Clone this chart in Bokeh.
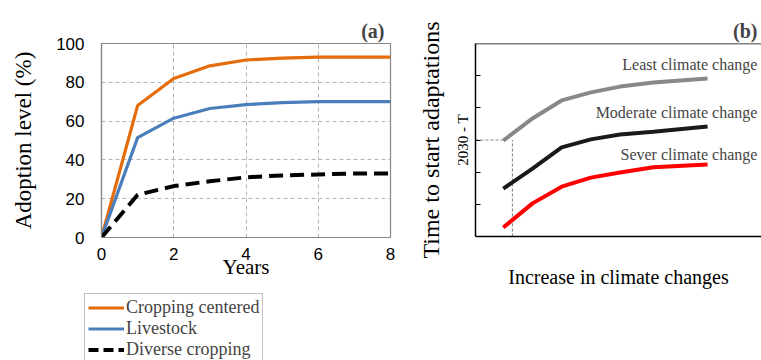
from bokeh.plotting import figure
from bokeh.models import Range1d, Legend, LegendItem, Label, Span, Title
from bokeh.layouts import row, column
from bokeh.embed import file_html
from bokeh.resources import INLINE

# ---- Panel (a) data ----
years = [0, 1, 2, 3, 4, 5, 6, 7, 8]
cropping_centered = [0, 68, 82, 88.5, 91.5, 92.5, 93, 93, 93]
livestock = [0, 51.5, 61.5, 66.5, 68.5, 69.5, 70, 70, 70]
diverse_cropping = [0, 22, 26.5, 29, 31, 32, 32.5, 33, 33]
a_xticks = [0, 2, 4, 6, 8]
a_yticks = [0, 20, 40, 60, 80, 100]
a_series_names = ["Cropping centered", "Livestock", "Diverse cropping"]

# ---- Panel (b) data ----
climate_increase = [1.0, 2.05, 3.1, 4.15, 5.2, 6.4, 8.35]
least_change = [2.98, 3.67, 4.23, 4.48, 4.66, 4.79, 4.91]
moderate_change = [1.49, 2.11, 2.77, 3.02, 3.17, 3.26, 3.42]
severe_change = [0.28, 1.03, 1.55, 1.83, 1.99, 2.15, 2.24]
b_series_names = ["Least climate change", "Moderate climate change", "Sever climate change"]
b_yticks = [1, 2, 3, 4, 5]
b_tick_labels = {1: "", 2: "", 3: "2030 - T", 4: "", 5: ""}
guide_x = 1.33
guide_y = 3.0

SERIF = "Liberation Serif"
SANS = "Liberation Sans"
ORANGE = "#E46C0A"
BLUE = "#4A7EBB"

# ================= Panel (a) =================
pa = figure(width=410, height=288, output_backend="svg", toolbar_location=None,
            x_range=Range1d(0, 8), y_range=Range1d(0, 100),
            min_border_left=101, min_border_right=20, min_border_top=43, min_border_bottom=51)
pa.background_fill_color = "white"
pa.border_fill_color = "white"
pa.outline_line_color = "#868686"
pa.outline_line_width = 1.2

pa.xaxis.ticker = a_xticks
pa.yaxis.ticker = a_yticks
pa.xgrid.ticker = a_xticks
pa.ygrid.ticker = a_yticks
for g in (pa.xgrid, pa.ygrid):
    g.grid_line_color = "#b3b3b3"
    g.grid_line_dash = "4 3"
    g.grid_line_width = 1

for ax in (pa.xaxis, pa.yaxis):
    ax.major_tick_in = 0
    ax.major_tick_out = 0
    ax.minor_tick_in = 0
    ax.minor_tick_out = 0
    ax.axis_line_color = "#868686"
    ax.axis_line_width = 1.2
    ax.major_label_text_font = SANS
    ax.major_label_text_font_size = "17px"
    ax.major_label_text_color = "black"
    ax.axis_label_text_font = SERIF
    ax.axis_label_text_font_style = "normal"
    ax.axis_label_text_color = "black"
pa.yaxis.major_label_standoff = 17
pa.xaxis.major_label_standoff = 10
pa.xaxis.axis_label = "Years"
pa.xaxis.axis_label_text_font_size = "21px"
pa.xaxis.axis_label_standoff = -8
pa.yaxis.axis_label = "Adoption level (%)"
pa.yaxis.axis_label_text_font_size = "23px"
pa.yaxis.axis_label_standoff = 17

pa.title = Title(text="(a)", align="right", text_font=SERIF, text_font_size="20px",
                 text_font_style="bold", offset=6, standoff=4)

pa.line(years, cropping_centered, line_color=ORANGE, line_width=3.2)
pa.line(years, livestock, line_color=BLUE, line_width=3.2)
pa.line(years, diverse_cropping, line_color="black", line_width=4, line_dash="14 7")

# ---- Legend box under panel (a): hidden copies of the series give the keys ----
lf = figure(width=410, height=72, output_backend="svg", toolbar_location=None,
            x_range=Range1d(0, 8), y_range=Range1d(0, 100),
            x_axis_type=None, y_axis_type=None,
            min_border_left=84, min_border_right=0, min_border_top=5, min_border_bottom=0)
lf.outline_line_color = None
lf.grid.visible = False
lk1 = lf.line(years, cropping_centered, line_color=ORANGE, line_width=3, visible=False)
lk2 = lf.line(years, livestock, line_color=BLUE, line_width=3, visible=False)
lk3 = lf.line(years, diverse_cropping, line_color="black", line_width=4, line_dash="10 5", visible=False)
legend = Legend(items=[LegendItem(label=a_series_names[0], renderers=[lk1]),
                       LegendItem(label=a_series_names[1], renderers=[lk2]),
                       LegendItem(label=a_series_names[2], renderers=[lk3])],
                location="top_left")
legend.label_text_font = SERIF
legend.label_text_font_size = "18px"
legend.label_height = 17
legend.glyph_height = 17
legend.glyph_width = 36
legend.label_standoff = 2
legend.spacing = 0
legend.padding = 3
legend.margin = 0
legend.border_line_color = "#7f7f7f"
legend.border_line_width = 1
legend.background_fill_alpha = 1
legend.inactive_fill_alpha = 0
lf.add_layout(legend, "center")

# ================= Panel (b) =================
pb = figure(width=351, height=360, output_backend="svg", toolbar_location=None,
            x_range=Range1d(0, 10.29), y_range=Range1d(0, 6),
            min_border_left=65, min_border_right=0, min_border_top=43, min_border_bottom=124)
pb.background_fill_color = "white"
pb.border_fill_color = "white"
pb.outline_line_color = None
pb.grid.visible = False

pb.yaxis.ticker = b_yticks
pb.yaxis.major_label_overrides = b_tick_labels
pb.yaxis.major_label_orientation = "vertical"
pb.yaxis.major_label_text_font = SERIF
pb.yaxis.major_label_text_font_size = "15px"
pb.yaxis.major_label_text_color = "black"
pb.yaxis.major_label_standoff = 5
pb.yaxis.major_tick_in = 5
pb.yaxis.major_tick_out = 0
pb.yaxis.minor_tick_in = 0
pb.yaxis.minor_tick_out = 0
pb.yaxis.major_tick_line_color = "black"
pb.yaxis.axis_line_color = "black"
pb.yaxis.axis_line_width = 1.5
pb.yaxis.axis_label = "Time to start adaptations"
pb.yaxis.axis_label_text_font = SERIF
pb.yaxis.axis_label_text_font_size = "24px"
pb.yaxis.axis_label_text_font_style = "normal"
pb.yaxis.axis_label_text_color = "black"
pb.yaxis.axis_label_standoff = 8

pb.xaxis.ticker = []
pb.xaxis.major_tick_in = 0
pb.xaxis.major_tick_out = 0
pb.xaxis.minor_tick_in = 0
pb.xaxis.minor_tick_out = 0
pb.xaxis.axis_line_color = "black"
pb.xaxis.axis_line_width = 1.5
pb.xaxis.axis_label = "Increase in climate changes"
pb.xaxis.axis_label_text_font = SERIF
pb.xaxis.axis_label_text_font_size = "20px"
pb.xaxis.axis_label_text_font_style = "normal"
pb.xaxis.axis_label_text_color = "black"
pb.xaxis.axis_label_standoff = 29

pb.title = Title(text="(b)", align="right", text_font=SERIF, text_font_size="20px",
                 text_font_style="bold", offset=4, standoff=4)

pb.add_layout(Span(location=6, dimension="width", line_color="black", line_width=1.5))

pb.line([0, climate_increase[0]], [guide_y, guide_y], line_color="#888888", line_width=1.2, line_dash="3 2")
pb.line([guide_x, guide_x], [0, guide_y], line_color="#888888", line_width=1.2, line_dash="3 2")

pb.line(climate_increase, least_change, line_color="#888888", line_width=4)
pb.line(climate_increase, moderate_change, line_color="#1a1a1a", line_width=4)
pb.line(climate_increase, severe_change, line_color="#ff0000", line_width=4)

label_y = [5.35, 3.84, 2.54]
for name, ly in zip(b_series_names, label_y):
    pb.add_layout(Label(x=10.14, y=ly, text=name, text_font=SERIF, text_font_size="16px",
                        text_align="right", text_baseline="middle"))

layout = row(column(pa, row(lf)), pb)
open("out.html", "w").write(file_html(layout, INLINE))
